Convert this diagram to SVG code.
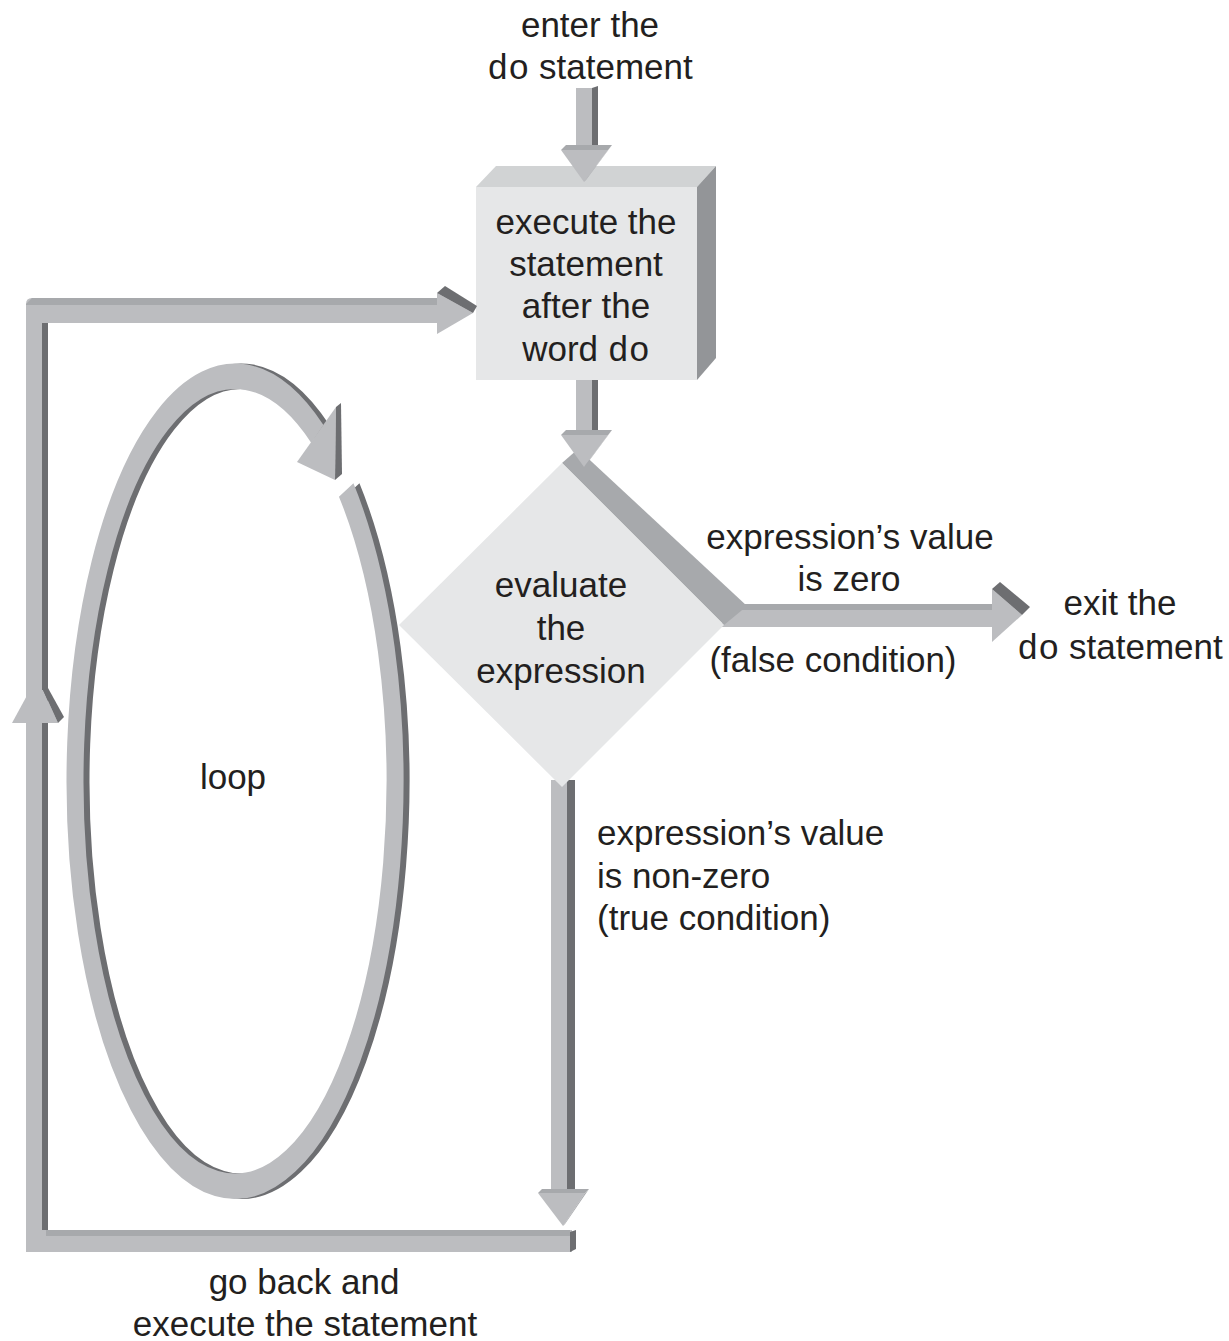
<svg xmlns="http://www.w3.org/2000/svg" width="1229" height="1341" viewBox="0 0 1229 1341">
<style>
.t{font-family:"Liberation Sans",Arial,sans-serif;font-size:35px;fill:#231f20}
.m{font-family:"Liberation Mono","Courier New",monospace}
.c{text-anchor:middle}
.lt{fill:#bcbdc0}
.dk{fill:#6d6e71}
.md{fill:#a7a9ac}
</style>
<rect width="1229" height="1341" fill="#ffffff"/>
<g id="box-execute">
  <polygon fill="#d1d3d4" points="476,187 496,166 716,166 697,187"/>
  <polygon fill="#939598" points="697,187 716,166 716,358 697,380"/>
  <rect x="476" y="187" width="221" height="193" fill="#e6e7e8"/>
  <text class="t c" x="586" y="234">execute the</text>
  <text class="t c" x="586" y="276">statement</text>
  <text class="t c" x="586" y="318">after the</text>
  <text class="t c" x="586" y="361">word <tspan font-family="'Liberation Mono','Courier New',monospace">do</tspan></text>
</g>
<g id="connectors">
  <g id="arrow-enter">
    <rect class="lt" x="576" y="88" width="16" height="60"/>
    <polygon class="dk" points="592,88 598,86 598,148 592,148"/>
    <polygon class="md" points="561,150 566,145 612,145 608,150"/>
    <polygon class="lt" points="561,150 608,150 584,182"/>
    <polygon class="md" points="608,150 612,145 586,180 584,182"/>
  </g>
  <g id="arrow-box-diamond">
    <rect class="lt" x="576" y="380" width="16" height="52"/>
    <rect class="dk" x="592" y="380" width="6" height="52"/>
  </g>
  <g id="arrow-true">
    <rect class="lt" x="551" y="780" width="16" height="412"/>
    <rect class="dk" x="567" y="780" width="8" height="412"/>
    <polygon class="md" points="538,1193 542,1189 589,1189 585,1193"/>
    <polygon class="lt" points="538,1193 585,1193 563,1226"/>
    <polygon class="md" points="585,1193 589,1189 565,1224 563,1226"/>
  </g>
  <g id="arrow-back">
    <rect class="lt" x="26" y="1230" width="546" height="22"/>
    <rect class="md" x="46" y="1230" width="524" height="6"/>
    <polygon class="dk" points="570,1232 576,1230 576,1249 570,1252"/>
    <path class="lt" d="M26,1252 V304 Q26,298 32,298 H437 V323 H42 V1252 Z"/>
    <rect class="dk" x="42" y="323" width="6" height="907"/>
    <polygon class="md" points="32,298 437,298 437,305 42,305 42,323 26,323 26,304"/>
    <rect class="lt" x="26" y="305" width="411" height="18"/>
    <polygon class="lt" points="12,723 30,690 43,690 58,723"/>
    <polygon class="dk" points="43,690 48,688 64,717 58,723"/>
    <polygon class="lt" points="437,293 473,313 437,334"/>
    <polygon class="dk" points="437,293 445,286 477,306 473,313"/>
  </g>
  <g id="arrow-false">
    <rect class="lt" x="722" y="610" width="272" height="17"/>
    <rect class="md" x="740" y="604" width="254" height="6"/>
    <polygon class="lt" points="992,589 1022,615 992,642"/>
    <polygon class="dk" points="992,589 1000,582 1030,607 1022,615"/>
  </g>
</g>
<g id="loop">
  <g transform="translate(241,781) scale(1,1.5)">
    <path d="M111.2,-194 A160,270 0 1 1 82.4,-231.3" fill="none" stroke="#6d6e71" stroke-width="17"/>
  </g>
  <g transform="translate(235,781) scale(1,1.5)">
    <path d="M111.2,-194 A160,270 0 1 1 82.4,-231.3" fill="none" stroke="#bcbdc0" stroke-width="17"/>
  </g>
  <polygon class="lt" points="297,462 336,407 335,480"/>
  <polygon class="dk" points="336,407 341,403 342,474 335,480"/>
  <text class="t c" x="233" y="789">loop</text>
</g>
<g id="diamond-evaluate">
  <polygon fill="#a7a9ac" points="562,463 578,449 747,606 724,625"/>
  <polygon fill="#e6e7e8" points="562,463 724,625 562,787 399,625"/>
  <text class="t c" x="561" y="597">evaluate</text>
  <text class="t c" x="561" y="640">the</text>
  <text class="t c" x="561" y="683">expression</text>
</g>
<g id="arrowhead-box-diamond">
  <polygon class="md" points="561,435 566,430 612,430 608,435"/>
  <polygon class="lt" points="561,435 608,435 584,467"/>
  <polygon class="md" points="608,435 612,430 586,465 584,467"/>
</g>
<g id="labels">
  <text class="t c" x="590" y="37">enter the</text>
  <text class="t c" x="590" y="79"><tspan font-family="'Liberation Mono','Courier New',monospace">do</tspan> statement</text>
  <text class="t c" x="850" y="549">expression’s value</text>
  <text class="t c" x="849" y="591">is zero</text>
  <text class="t c" x="833" y="672">(false condition)</text>
  <text class="t c" x="1120" y="615">exit the</text>
  <text class="t c" x="1120" y="659"><tspan font-family="'Liberation Mono','Courier New',monospace">do</tspan> statement</text>
  <text class="t" x="597" y="845">expression’s value</text>
  <text class="t" x="597" y="888">is non-zero</text>
  <text class="t" x="597" y="930">(true condition)</text>
  <text class="t c" x="304" y="1294">go back and</text>
  <text class="t c" x="305" y="1336">execute the statement</text>
</g>
</svg>
